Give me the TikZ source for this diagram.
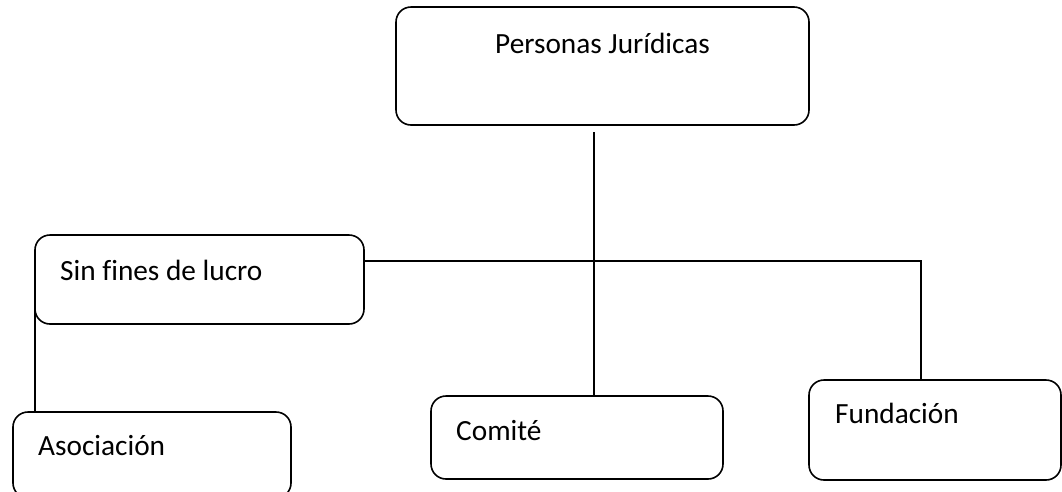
\documentclass[tikz,border=0pt]{standalone}
\usepackage{fontspec}
\setmainfont[Ligatures=NoCommon]{Carlito}
\begin{document}
\begin{tikzpicture}[x=1pt,y=-1pt,
  box/.style={draw=black,line width=1.6pt,rounded corners=15pt,inner sep=0pt,fill=none},
  conn/.style={draw=black,line width=1.4pt},
  lbl/.style={anchor=base west,inner sep=0pt,font=\fontsize{29.3}{35}\selectfont}]
\useasboundingbox[fill=white] (0,0) rectangle (1062,491);
\node[box,minimum width=413pt,minimum height=118pt] (pj) at (602.5,66) {};
\node[box,minimum width=329pt,minimum height=89pt] (sfl) at (199.5,279.5) {};
\node[box,minimum width=278pt,minimum height=86pt] (aso) at (152,455) {};
\node[box,minimum width=292pt,minimum height=83pt] (com) at (577,437.5) {};
\node[box,minimum width=252pt,minimum height=100pt] (fun) at (935,430) {};
\node[lbl] (tpj) at (495,53) {Personas Jurídicas};
\node[lbl] (tsfl) at (60,280) {Sin fines de lucro};
\node[lbl] (taso) at (38,455) {Asociación};
\node[lbl] (tcom) at (456,440) {Comité};
\node[lbl] (tfun) at (835,423) {Fundación};
\coordinate (drop) at (594,132);
\coordinate (fj) at (921,261);
\draw[conn] (drop) -- (drop |- com.north);
\draw[conn] (sfl.east |- fj) -- (fj) -- (fj |- fun.north);
\draw[conn] ([xshift=0.6pt,yshift=20pt]sfl.south west) -- ([xshift=0.6pt]sfl.south west |- aso.north);
\end{tikzpicture}
\end{document}
